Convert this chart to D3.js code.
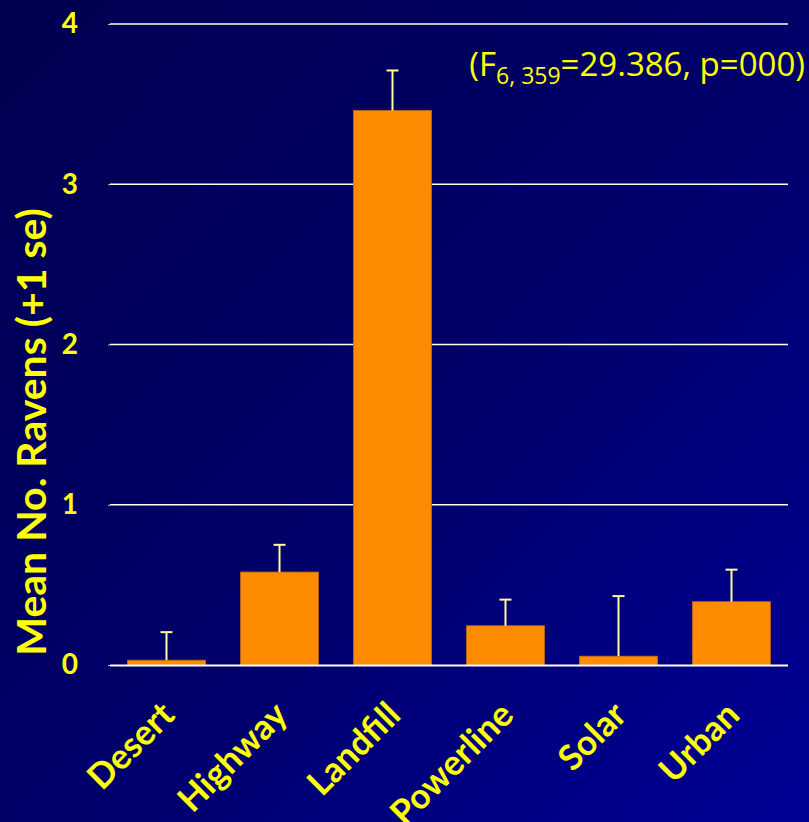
<!DOCTYPE html>
<html><head><meta charset="utf-8">
<script src="https://cdn.jsdelivr.net/npm/d3@7"></script>
<style>html,body{margin:0;padding:0;overflow:hidden;background:#000066;}</style>
</head><body>
<script>
const categories = ["Desert","Highway","Landfill","Powerline","Solar","Urban"];
const means = [0.03, 0.58, 3.46, 0.245, 0.055, 0.395];
const se = [0.175, 0.17, 0.25, 0.163, 0.375, 0.2];
const yTicks = [0,1,2,3,4];

const W = 809, H = 822;
const svg = d3.select("body").append("svg").attr("width", W).attr("height", H);
const defs = svg.append("defs");
const g = defs.append("linearGradient").attr("id","bg").attr("x1","0").attr("y1","0").attr("x2","1").attr("y2","1");
g.append("stop").attr("offset","0").attr("stop-color","#000050");
g.append("stop").attr("offset","0.5").attr("stop-color","#000068");
g.append("stop").attr("offset","1").attr("stop-color","#000096");
svg.append("rect").attr("width",W).attr("height",H).attr("fill","url(#bg)");

const x = d3.scaleBand().domain(categories).range([110, 788]).paddingInner(0.31).paddingOuter(0.155);
const y = d3.scaleLinear().domain([0,4]).range([665, 24]);
const font = "Lato, 'Open Sans', sans-serif";
const yellow = "#FFFF00";

// gridlines
svg.append("g").selectAll("line").data(yTicks.filter(d=>d>0)).join("line")
  .attr("x1",110).attr("x2",788).attr("y1",d=>y(d)).attr("y2",d=>y(d))
  .attr("stroke","#FFFFF0").attr("stroke-width",1.6);

// y axis ticks labels
const yAxis = d3.axisLeft(y).tickValues(yTicks).tickFormat(d3.format("d")).tickSize(2).tickPadding(30);
const ya = svg.append("g").attr("transform","translate(110,0)").call(yAxis);
ya.select(".domain").remove();
ya.selectAll(".tick line").attr("stroke","#c0c0c0");
ya.selectAll(".tick text").attr("fill",yellow).attr("font-family",font).attr("font-weight","bold").attr("font-size",28);

// bars
svg.append("g").selectAll("rect").data(categories).join("rect")
  .attr("x",d=>x(d)).attr("width",x.bandwidth())
  .attr("y",(d,i)=>y(means[i])).attr("height",(d,i)=>y(0)-y(means[i]))
  .attr("fill","#FF8C00").attr("stroke","#C06820").attr("stroke-width",0.8);

// error bars
const eb = svg.append("g").selectAll("g").data(categories).join("g");
eb.append("line").attr("x1",d=>x(d)+x.bandwidth()/2).attr("x2",d=>x(d)+x.bandwidth()/2)
  .attr("y1",(d,i)=>y(means[i])).attr("y2",(d,i)=>y(means[i]+se[i]))
  .attr("stroke","#FFFF99").attr("stroke-width",2);
eb.append("line").attr("x1",d=>x(d)+x.bandwidth()/2-6).attr("x2",d=>x(d)+x.bandwidth()/2+6)
  .attr("y1",(d,i)=>y(means[i]+se[i])).attr("y2",(d,i)=>y(means[i]+se[i]))
  .attr("stroke","#FFFF99").attr("stroke-width",2);

// x axis line
svg.append("line").attr("x1",110).attr("x2",788).attr("y1",y(0)+0.5).attr("y2",y(0)+0.5)
  .attr("stroke","#FFFFF0").attr("stroke-width",2);

// x labels
svg.append("g").selectAll("text").data(categories).join("text")
  .attr("transform",d=>`translate(${x(d)+x.bandwidth()/2+10},${y(0)+52}) rotate(-45)`)
  .attr("text-anchor","end")
  .attr("fill",yellow).attr("font-family",font).attr("font-weight","bold").attr("font-size",35)
  .text(d=>d);

// y title
svg.append("text").attr("transform","translate(46,432) rotate(-90)")
  .attr("text-anchor","middle").attr("fill",yellow).attr("font-family",font)
  .attr("font-weight","bold").attr("font-size",41).text("Mean No. Ravens (+1 se)");

// annotation
const ann = svg.append("text").attr("x",805).attr("y",76).attr("text-anchor","end")
  .attr("fill",yellow).attr("font-family","'Open Sans', Lato, sans-serif").attr("font-size",33);
ann.append("tspan").text("(F");
ann.append("tspan").attr("font-size",23).attr("dy",8).text("6, 359");
ann.append("tspan").attr("dy",-8).text("=29.386, p=000)");
</script>
</body></html>
